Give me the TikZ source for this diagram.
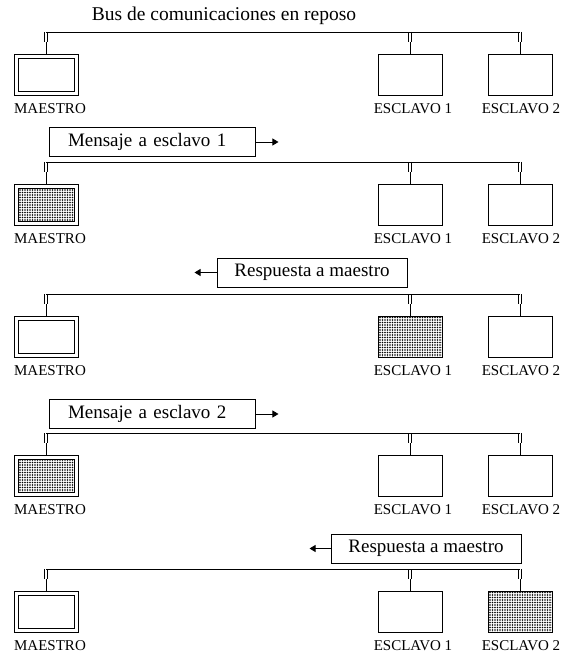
\documentclass[tikz,border=0pt]{standalone}
\usepackage{fontspec}
\setmainfont{Liberation Serif}
\usetikzlibrary{patterns.meta,arrows.meta}

\tikzset{
  box/.style={draw, line width=0.9pt, minimum width=64pt, minimum height=41pt, inner sep=0pt},
  dotfill/.style={pattern={Dots[distance=2.5pt, radius=0.8pt]}},
  slave/.style={box},
  slavebusy/.style={box, dotfill},
  master/.style={box, path picture={
      \draw[line width=0.9pt] ([xshift=4pt,yshift=-4pt]path picture bounding box.north west)
        rectangle ([xshift=-4pt,yshift=4pt]path picture bounding box.south east);}},
  masterbusy/.style={box, path picture={
      \draw[line width=0.9pt, dotfill] ([xshift=4pt,yshift=-4pt]path picture bounding box.north west)
        rectangle ([xshift=-4pt,yshift=4pt]path picture bounding box.south east);}},
  tag/.style={font=\fontsize{15}{17}\selectfont, inner sep=0pt},
  msg/.style={draw, line width=0.9pt, minimum height=29pt, inner sep=0pt,
    font=\fontsize{19}{22}\selectfont},
  busline/.style={line width=0.9pt},
  stub/.style={double, double distance=1.8pt, line width=0.9pt},
  go/.style={line width=0.9pt, -{Triangle[length=6pt, width=7pt]}}
}

\begin{document}
\begin{tikzpicture}[x=1pt, y=-1pt]
  \useasboundingbox (0,0) rectangle (563,655);

  % title of the first bus
  \node[font=\fontsize{19.5}{22}\selectfont] (title) at (224,16) {Bus de comunicaciones en reposo};

  % the five states of the bus, one row each
  \foreach \b/\mst/\sa/\sb [count=\i] in {32/master/slave/slave, 162/masterbusy/slave/slave,
      294/master/slavebusy/slave, 433/masterbusy/slave/slave, 569/master/slave/slavebusy} {
    % stations
    \node[\mst] (m\i) at (46,\b+42.5) {};
    \node[\sa] (ea\i) at (410,\b+42.5) {};
    \node[\sb] (eb\i) at (520,\b+42.5) {};
    \node[tag] (lm\i) at (50,\b+77) {MAESTRO};
    \node[tag] (la\i) at (413,\b+77) {ESCLAVO 1};
    \node[tag] (lb\i) at (521,\b+77) {ESCLAVO 2};

    % taps first, then the bus on top of them
    \coordinate (bm\i) at (46,\b);
    \coordinate (ba\i) at (410,\b);
    \coordinate (bb\i) at (520,\b);
    \coordinate (tm\i) at (46,\b+10);
    \coordinate (ta\i) at (410,\b+10);
    \coordinate (tb\i) at (520,\b+10);
    \draw[stub] (bm\i) -- (tm\i);
    \draw[stub] (ba\i) -- (ta\i);
    \draw[stub] (bb\i) -- (tb\i);
    \draw[busline] (tm\i) -- (m\i.north);
    \draw[busline] (ta\i) -- (ea\i.north);
    \draw[busline] (tb\i) -- (eb\i.north);
    \draw[busline] (bm\i) -- (bb\i);
  }

  % messages on the bus
  \node[msg, minimum width=206pt, text width=168pt, inner xsep=19pt, align=left] (msg2) at (152,142) {Mensaje a esclavo 1};
  \draw[go] (msg2.east) -- ++(23,0);

  \node[msg, minimum width=190pt] (msg3) at (312,272.5) {Respuesta a maestro};
  \draw[go] (msg3.west) -- ++(-22,0);

  \node[msg, minimum width=206pt, text width=168pt, inner xsep=19pt, align=left] (msg4) at (152,414) {Mensaje a esclavo 2};
  \draw[go] (msg4.east) -- ++(23,0);

  \node[msg, minimum width=190pt] (msg5) at (426,548.5) {Respuesta a maestro};
  \draw[go] (msg5.west) -- ++(-21,0);

\end{tikzpicture}
\end{document}
